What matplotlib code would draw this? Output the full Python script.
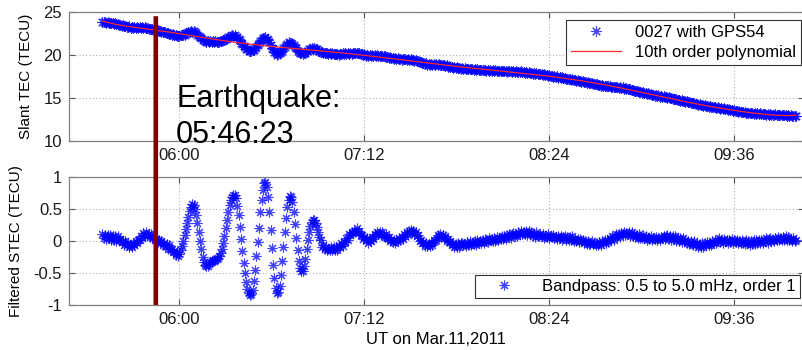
import numpy as np
import matplotlib
matplotlib.use("Agg")
import matplotlib.pyplot as plt
from matplotlib.patches import ConnectionPatch
from matplotlib.ticker import FuncFormatter

plt.rcParams['font.family'] = ['Liberation Sans', 'DejaVu Sans']

# Zeit: Start 05:30 UT, Abtastung 30 s (Minuten seit Mitternacht)
t_start = 330.0
t_step = 0.5

# Slant TEC 0027 mit GPS54 (TECU)
slant_tec = [
    23.88, 23.80, 23.88, 23.76, 23.83, 23.68, 23.75, 23.67, 23.73, 23.59, 23.66, 23.54, 23.63, 23.50, 23.52, 23.41, 23.46, 23.37, 23.41, 23.28,
    23.26, 23.31, 23.17, 23.23, 23.18, 23.24, 23.14, 23.21, 23.14, 23.24, 23.15, 23.19, 23.12, 23.20, 23.13, 23.17, 23.05, 23.06, 22.98, 23.02,
    22.93, 22.97, 22.82, 22.87, 22.76, 22.83, 22.70, 22.71, 22.61, 22.66, 22.57, 22.60, 22.47, 22.47, 22.37, 22.43, 22.32, 22.35, 22.20, 22.24,
    22.18, 22.31, 22.27, 22.37, 22.37, 22.53, 22.55, 22.69, 22.66, 22.75, 22.72, 22.78, 22.63, 22.58, 22.33, 22.25, 22.05, 21.97, 21.72, 21.70,
    21.60, 21.51, 21.59, 21.53, 21.62, 21.51, 21.58, 21.51, 21.57, 21.46, 21.54, 21.48, 21.61, 21.57, 21.69, 21.71, 21.90, 21.95, 22.12, 22.12,
    22.16, 22.27, 22.24, 22.29, 22.12, 22.07, 21.83, 21.73, 21.44, 21.28, 21.01, 20.92, 20.70, 20.65, 20.47, 20.46, 20.41, 20.55, 20.60, 20.84,
    20.93, 21.21, 21.34, 21.67, 21.76, 21.95, 21.96, 22.05, 21.89, 21.78, 21.45, 21.19, 20.84, 20.65, 20.35, 20.25, 20.04, 20.13, 20.17, 20.39,
    20.50, 20.76, 20.91, 21.19, 21.28, 21.46, 21.41, 21.42, 21.27, 21.19, 20.91, 20.77, 20.44, 20.34, 20.18, 20.18, 20.06, 20.20, 20.23, 20.46,
    20.51, 20.70, 20.68, 20.77, 20.74, 20.81, 20.69, 20.70, 20.49, 20.48, 20.36, 20.36, 20.22, 20.26, 20.17, 20.25, 20.14, 20.19, 20.10, 20.18,
    20.07, 20.16, 20.09, 20.15, 20.04, 20.12, 20.09, 20.17, 20.08, 20.18, 20.12, 20.23, 20.15, 20.22, 20.16, 20.26, 20.20, 20.26, 20.17, 20.18,
    20.20, 20.06, 20.09, 20.02, 20.06, 19.92, 19.98, 19.89, 19.98, 19.89, 19.95, 19.88, 19.98, 19.92, 19.99, 19.90, 19.93, 19.86, 19.93, 19.83,
    19.88, 19.75, 19.79, 19.69, 19.74, 19.62, 19.64, 19.54, 19.62, 19.53, 19.59, 19.49, 19.52, 19.47, 19.55, 19.48, 19.55, 19.43, 19.50, 19.45,
    19.52, 19.42, 19.43, 19.33, 19.38, 19.26, 19.29, 19.15, 19.13, 19.04, 19.09, 18.98, 19.03, 18.88, 18.94, 18.89, 18.94, 18.84, 18.92, 18.85,
    18.93, 18.87, 18.95, 18.85, 18.87, 18.79, 18.86, 18.75, 18.79, 18.64, 18.69, 18.61, 18.65, 18.51, 18.57, 18.48, 18.55, 18.45, 18.49, 18.41,
    18.48, 18.41, 18.46, 18.35, 18.42, 18.36, 18.42, 18.32, 18.37, 18.30, 18.39, 18.28, 18.32, 18.25, 18.31, 18.25, 18.31, 18.20, 18.23, 18.18,
    18.22, 18.18, 18.25, 18.13, 18.21, 18.14, 18.22, 18.13, 18.18, 18.09, 18.18, 18.12, 18.18, 18.09, 18.12, 18.07, 18.15, 18.08, 18.15, 18.04,
    18.12, 18.05, 18.13, 18.04, 18.07, 18.00, 18.08, 18.01, 18.06, 17.96, 17.99, 17.92, 17.99, 17.90, 17.96, 17.83, 17.90, 17.83, 17.90, 17.77,
    17.83, 17.73, 17.80, 17.71, 17.76, 17.63, 17.66, 17.58, 17.64, 17.54, 17.61, 17.46, 17.52, 17.44, 17.50, 17.37, 17.43, 17.33, 17.41, 17.28,
    17.35, 17.23, 17.25, 17.17, 17.23, 17.13, 17.19, 17.05, 17.09, 17.03, 17.06, 16.94, 16.98, 16.89, 16.95, 16.84, 16.85, 16.76, 16.81, 16.73,
    16.69, 16.73, 16.60, 16.64, 16.58, 16.61, 16.50, 16.54, 16.45, 16.53, 16.42, 16.45, 16.36, 16.43, 16.36, 16.41, 16.30, 16.32, 16.26, 16.33,
    16.25, 16.30, 16.18, 16.23, 16.14, 16.22, 16.10, 16.13, 16.02, 16.09, 15.99, 16.02, 15.90, 15.90, 15.82, 15.87, 15.77, 15.81, 15.67, 15.71,
    15.63, 15.69, 15.57, 15.58, 15.48, 15.53, 15.45, 15.48, 15.36, 15.36, 15.29, 15.34, 15.25, 15.30, 15.17, 15.21, 15.15, 15.19, 15.07, 15.11,
    15.01, 15.06, 14.99, 15.02, 14.90, 14.90, 14.83, 14.88, 14.78, 14.82, 14.69, 14.73, 14.66, 14.69, 14.57, 14.61, 14.51, 14.57, 14.45, 14.47,
    14.37, 14.38, 14.29, 14.35, 14.24, 14.29, 14.14, 14.19, 14.12, 14.17, 14.04, 14.10, 14.01, 14.08, 13.97, 14.00, 13.90, 13.97, 13.89, 13.93,
    13.86, 13.78, 13.85, 13.75, 13.81, 13.67, 13.71, 13.66, 13.71, 13.58, 13.64, 13.54, 13.60, 13.49, 13.52, 13.42, 13.47, 13.40, 13.43, 13.32,
    13.37, 13.26, 13.31, 13.27, 13.31, 13.21, 13.26, 13.19, 13.27, 13.18, 13.20, 13.13, 13.20, 13.14, 13.18, 13.09, 13.11, 13.06, 13.12, 13.05,
    13.11, 13.01, 13.08, 13.01, 13.11, 13.00, 13.06, 12.99, 13.06, 13.00, 13.07, 12.98, 13.00, 12.93, 13.03, 12.94, 13.00, 12.89, 12.96, 12.91, 12.95,
]

# Bandpass 0.5 bis 5.0 mHz gefiltertes STEC (TECU)
filtered_stec = [
    0.11, 0.05, 0.09, 0.03, 0.09, 0.04, 0.09, 0.02, 0.07, 0.02, 0.07, 0.00, 0.07, 0.01, 0.03, -0.02, -0.01, -0.06, -0.01, -0.07,
    -0.03, -0.09, -0.07, -0.10, -0.04, -0.06, 0.00, -0.04, 0.02, 0.01, 0.07, 0.04, 0.12, 0.09, 0.13, 0.09, 0.11, 0.06, 0.11, 0.04,
    0.08, 0.02, 0.03, -0.02, 0.02, -0.02, 0.00, -0.07, -0.04, -0.08, -0.05, -0.12, -0.07, -0.13, -0.12, -0.17, -0.16, -0.22, -0.18, -0.24,
    -0.20, -0.15, -0.08, 0.00, 0.09, 0.18, 0.28, 0.37, 0.46, 0.53, 0.57, 0.56, 0.50, 0.40, 0.28, 0.14, 0.00, -0.13, -0.25, -0.33,
    -0.38, -0.40, -0.39, -0.36, -0.33, -0.31, -0.30, -0.31, -0.30, -0.29, -0.27, -0.24, -0.19, -0.12, -0.03, 0.08, 0.20, 0.33, 0.45, 0.56,
    0.64, 0.69, 0.72, 0.71, 0.66, 0.55, 0.40, 0.22, 0.03, -0.16, -0.34, -0.50, -0.64, -0.75, -0.82, -0.85, -0.83, -0.76, -0.63, -0.45,
    -0.24, -0.02, 0.20, 0.45, 0.64, 0.80, 0.90, 0.92, 0.84, 0.68, 0.45, 0.17, -0.11, -0.37, -0.58, -0.74, -0.82, -0.80, -0.70, -0.53,
    -0.32, -0.09, 0.14, 0.35, 0.52, 0.64, 0.70, 0.69, 0.60, 0.45, 0.26, 0.05, -0.15, -0.31, -0.42, -0.47, -0.47, -0.40, -0.28, -0.13,
    0.01, 0.14, 0.23, 0.29, 0.32, 0.32, 0.28, 0.22, 0.14, 0.06, 0.01, -0.09, -0.06, -0.12, -0.10, -0.15, -0.12, -0.15, -0.10, -0.14,
    -0.10, -0.14, -0.10, -0.15, -0.08, -0.10, -0.04, -0.08, -0.02, -0.02, 0.04, 0.02, 0.10, 0.09, 0.14, 0.12, 0.16, 0.13, 0.20, 0.13,
    0.16, 0.09, 0.09, 0.03, 0.06, 0.01, 0.04, -0.03, 0.02, 0.00, 0.06, 0.03, 0.11, 0.09, 0.13, 0.10, 0.14, 0.09, 0.14, 0.08,
    0.06, 0.10, 0.04, 0.06, -0.01, 0.02, -0.02, 0.02, -0.03, 0.01, -0.01, 0.05, 0.01, 0.06, 0.03, 0.10, 0.08, 0.14, 0.09, 0.15,
    0.17, 0.13, 0.15, 0.10, 0.13, 0.07, 0.09, 0.00, 0.01, -0.04, -0.02, -0.08, -0.03, -0.08, -0.05, -0.08, -0.04, -0.06, 0.02, 0.00,
    0.02, 0.09, 0.07, 0.11, 0.06, 0.09, 0.05, 0.08, 0.00, 0.03, -0.02, 0.00, -0.06, -0.05, -0.10, -0.05, -0.09, -0.04, -0.10, -0.04,
    -0.03, -0.07, -0.05, -0.08, -0.02, -0.06, -0.01, -0.06, -0.03, -0.05, 0.00, -0.06, 0.01, -0.02, 0.00, -0.03, 0.01, -0.04, 0.03, -0.01,
    -0.02, 0.04, 0.01, 0.03, -0.01, 0.04, 0.00, 0.06, 0.01, 0.05, 0.03, 0.08, 0.03, 0.07, 0.03, 0.09, 0.06, 0.11, 0.05, 0.11,
    0.12, 0.08, 0.11, 0.08, 0.13, 0.11, 0.15, 0.10, 0.13, 0.11, 0.15, 0.09, 0.15, 0.10, 0.13, 0.08, 0.11, 0.06, 0.13, 0.07,
    0.07, 0.11, 0.08, 0.10, 0.05, 0.08, 0.06, 0.10, 0.04, 0.08, 0.06, 0.09, 0.04, 0.06, 0.03, 0.07, 0.05, 0.08, 0.02, 0.06,
    0.08, 0.02, 0.06, 0.01, 0.06, 0.02, 0.07, 0.00, 0.03, 0.00, 0.03, -0.02, 0.03, -0.01, 0.01, -0.03, -0.01, -0.05, 0.00, -0.05,
    -0.05, -0.01, -0.05, -0.03, -0.07, -0.04, -0.06, -0.02, -0.07, -0.01, -0.04, 0.01, -0.03, 0.01, -0.02, 0.04, 0.02, 0.07, 0.02, 0.08,
    0.10, 0.06, 0.10, 0.06, 0.12, 0.10, 0.14, 0.09, 0.12, 0.10, 0.13, 0.07, 0.13, 0.08, 0.11, 0.06, 0.09, 0.04, 0.10, 0.04,
    0.05, 0.09, 0.05, 0.07, 0.02, 0.05, 0.03, 0.07, 0.01, 0.05, 0.03, 0.06, 0.02, 0.05, 0.02, 0.06, 0.04, 0.08, 0.03, 0.07,
    0.09, 0.03, 0.07, 0.02, 0.07, 0.03, 0.07, 0.00, 0.04, 0.00, 0.04, -0.02, 0.04, -0.01, 0.02, -0.03, 0.00, -0.05, 0.00, -0.05,
    -0.06, -0.01, -0.06, -0.03, -0.09, -0.05, -0.09, -0.04, -0.10, -0.04, -0.07, -0.02, -0.06, -0.03, -0.06, 0.00, -0.03, 0.02, -0.03, 0.02,
    0.04, -0.02, 0.02, -0.03, 0.03, -0.01, 0.02, -0.03, 0.02, -0.02, 0.03, -0.03, 0.02, -0.02, 0.02, -0.03, -0.01, -0.04, 0.01, -0.04,
    -0.05, 0.01, -0.04, 0.00, -0.06, -0.01, -0.05, 0.01, -0.05, 0.01, -0.03, 0.02, -0.03, 0.01, -0.04, 0.02, -0.01, 0.04, -0.03, 0.03,
    0.04, 0.00, 0.02, -0.01, 0.05, 0.01, 0.06, 0.01, 0.04, 0.02, 0.06, 0.02, 0.07, 0.02, 0.06, 0.01, 0.03, 0.00, 0.05, 0.00, 0.02,
]

xticks = [360, 432, 504, 576]           # 06:00, 07:12, 08:24, 09:36
top_yticks = [10, 15, 20, 25]
bottom_yticks = [-1, -0.5, 0, 0.5, 1]
eq_time = 350.8                         # Lage der Erdbebenlinie im Bild
eq_label = "Earthquake:\n05:46:23"

t = t_start + t_step * np.arange(len(slant_tec))
tec = np.array(slant_tec)

# Polynom 10. Ordnung an die TEC-Daten
s = (t - t.mean()) / ((t.max() - t.min()) / 2)
poly = np.polyval(np.polyfit(s, tec, 10), s)

blau = '#0000ff'
star = (8, 2, 0)


def hhmm(v, pos):
    return f"{int(v // 60):02d}:{int(round(v % 60)):02d}"


def style_axes(ax, yticks):
    ax.set_xlim(317, 603)
    ax.set_xticks(xticks)
    ax.set_yticks(yticks)
    ax.xaxis.set_major_formatter(FuncFormatter(hhmm))
    ax.yaxis.set_major_formatter(FuncFormatter(lambda v, p: f"{v:g}"))
    ax.grid(True, color='#b0b0b0', linestyle=(0, (1, 2)), linewidth=0.8)
    ax.tick_params(direction='in', length=4, width=0.8, color='#555555',
                   labelsize=12, labelcolor='#1a1a1a', top=True, right=True)
    ax.tick_params(axis='x', pad=5)
    ax.tick_params(axis='y', pad=5)
    for sp in ax.spines.values():
        sp.set_color('#808080')
        sp.set_linewidth(0.9)


fig = plt.figure(figsize=(8.02, 3.5), dpi=100)
ax1 = fig.add_axes([0.086, 0.597, 0.916, 0.369])
ax2 = fig.add_axes([0.086, 0.1286, 0.916, 0.3666])

# oben: Slant TEC
ax1.plot(t, tec, linestyle='none', marker=star, markersize=7.5, markeredgewidth=0.8,
         color=blau, alpha=0.75, label='0027 with GPS54')
ax1.plot(t, poly, color='#ff2a2a', linewidth=0.9, label='10th order polynomial')
ax1.set_ylim(10, 25)
style_axes(ax1, top_yticks)
ax1.set_ylabel('Slant TEC (TECU)', fontsize=11)
ax1.yaxis.set_label_coords(-0.049, 0.5)
leg1 = ax1.legend(loc='upper right', bbox_to_anchor=(0.996, 0.936), borderaxespad=0,
                  fontsize=12, handlelength=3, fancybox=False, framealpha=1,
                  edgecolor='#333333', borderpad=0.3, labelspacing=0.3)
leg1.get_frame().set_linewidth(0.8)

# unten: gefiltertes STEC
ax2.plot(t, filtered_stec, linestyle='none', marker=star, markersize=7, markeredgewidth=0.8,
         color=blau, alpha=0.75, label='Bandpass: 0.5 to 5.0 mHz, order 1')
ax2.set_ylim(-1, 1)
style_axes(ax2, bottom_yticks)
ax2.set_ylabel('Filtered STEC (TECU)', fontsize=11)
ax2.yaxis.set_label_coords(-0.063, 0.5)
ax2.set_xlabel('UT on Mar.11,2011', fontsize=12, labelpad=4)
leg2 = ax2.legend(loc='lower right', bbox_to_anchor=(0.995, 0.055), borderaxespad=0,
                  fontsize=12, handlelength=3, fancybox=False, framealpha=1,
                  edgecolor='#333333', borderpad=0.25)
leg2.get_frame().set_linewidth(0.8)

# Erdbebenzeitpunkt ueber beide Achsen
con = ConnectionPatch(xyA=(eq_time, 24.5), coordsA='data', axesA=ax1,
                      xyB=(eq_time, -1), coordsB='data', axesB=ax2,
                      color='#800000', linewidth=3.3, capstyle='butt', zorder=10)
fig.add_artist(con)

ax1.text(358.7, 16.6, eq_label, fontsize=22, va='top', ha='left',
         linespacing=1.25, color='black', clip_on=False, zorder=11)

fig.savefig('out.png', dpi=100)
